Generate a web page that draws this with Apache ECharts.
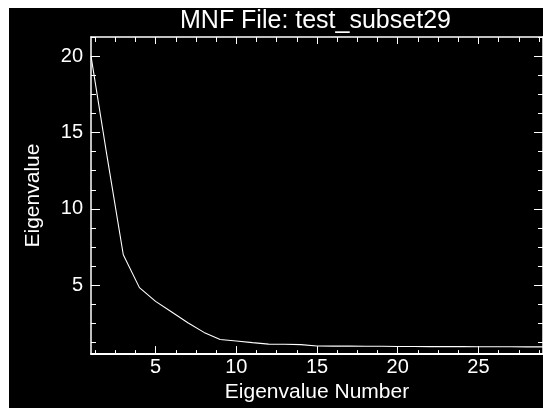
<!DOCTYPE html>
<html>
<head>
<meta charset="utf-8">
<script src="https://cdn.jsdelivr.net/npm/echarts@6/dist/echarts.min.js"></script>
<style>
  html, body { margin: 0; padding: 0; background: #ffffff; width: 543px; height: 408px; overflow: hidden; }
  #bg { position: absolute; left: 9px; top: 8px; width: 534px; height: 400px; background: #000000; }
  #chart { position: absolute; left: 0; top: 0; width: 543px; height: 408px; }
</style>
</head>
<body>
<div id="bg"></div>
<div id="chart"></div>
<script>
// Eigenvalue number (x) and eigenvalue (y)
const eigenNumbers = [1, 2, 3, 4, 5, 6, 7, 8, 9, 10, 11, 12, 13, 14, 15, 16, 17, 18, 19, 20, 21, 22, 23, 24, 25, 26, 27, 28, 29];
const eigenValues = [20.0, 13.4, 7.0, 4.85, 3.95, 3.25, 2.55, 1.92, 1.46, 1.36, 1.25, 1.15, 1.14, 1.12, 1.03, 1.02, 1.02, 1.01, 1.01, 1.0, 1.0, 0.99, 0.99, 0.99, 0.98, 0.98, 0.98, 0.97, 0.97];

// Tick labels / tick positions
const xMajorTicks = [5, 10, 15, 20, 25];
const xMinorTicks = [1.25, 2.5, 3.75, 6.25, 7.5, 8.75, 11.25, 12.5, 13.75, 16.25, 17.5, 18.75, 21.25, 22.5, 23.75, 26.25, 27.5, 28.75];
const yMajorTicks = [5, 10, 15, 20];
const yMinorTicks = [1.25, 2.5, 3.75, 6.25, 7.5, 8.75, 11.25, 12.5, 13.75, 16.25, 17.5, 18.75, 21.25];

const titleText = 'MNF File: test_subset29';
const xName = 'Eigenvalue Number';
const yName = 'Eigenvalue';

const FONT = 'Liberation Sans';
const WHITE = '#ffffff';
const X_MIN = 1, X_MAX = 29, Y_MIN = 0.5, Y_MAX = 21.25;

function xAx(opts) {
  return Object.assign({
    type: 'value', min: X_MIN, max: X_MAX, gridIndex: 0,
    splitLine: { show: false },
    axisLine: { show: false },
    axisLabel: { show: false },
    axisTick: { show: false }
  }, opts);
}
function yAx(opts) {
  return Object.assign({
    type: 'value', min: Y_MIN, max: Y_MAX, gridIndex: 0,
    splitLine: { show: false },
    axisLine: { show: false },
    axisLabel: { show: false },
    axisTick: { show: false }
  }, opts);
}

const chart = echarts.init(document.getElementById('chart'), null, { renderer: 'canvas' });
chart.setOption({
  animation: false,
  backgroundColor: 'transparent',
  title: {
    text: titleText,
    left: 180, top: 9, padding: 0,
    textStyle: { color: WHITE, fontFamily: FONT, fontSize: 25, fontWeight: 'normal' }
  },
  grid: { left: 91, top: 37, right: -4, bottom: 39.5, containLabel: false },
  xAxis: [
    xAx({
      position: 'bottom',
      axisLine: { show: true, onZero: false, lineStyle: { color: WHITE, width: 2 } },
      axisTick: { show: true, inside: true, length: 8, customValues: xMajorTicks, lineStyle: { color: WHITE, width: 1 } },
      axisLabel: { show: true, customValues: xMajorTicks, color: WHITE, fontFamily: FONT, fontSize: 20, margin: 3 },
      name: xName, nameLocation: 'middle', nameGap: 19,
      nameTextStyle: { color: WHITE, fontFamily: FONT, fontSize: 21 }
    }),
    xAx({
      position: 'bottom',
      axisTick: { show: true, inside: true, length: 4, customValues: xMinorTicks, lineStyle: { color: WHITE, width: 1 } }
    }),
    xAx({
      position: 'top',
      axisLine: { show: true, onZero: false, lineStyle: { color: WHITE, width: 1.5 } },
      axisTick: { show: true, inside: true, length: 7, customValues: xMajorTicks, lineStyle: { color: WHITE, width: 1 } }
    }),
    xAx({
      position: 'top',
      axisTick: { show: true, inside: true, length: 5, customValues: xMinorTicks, lineStyle: { color: WHITE, width: 1 } }
    })
  ],
  yAxis: [
    yAx({
      position: 'left',
      axisLine: { show: true, onZero: false, lineStyle: { color: WHITE, width: 1.5 } },
      axisTick: { show: true, inside: true, length: 9, customValues: yMajorTicks, lineStyle: { color: WHITE, width: 1 } },
      axisLabel: { show: true, customValues: yMajorTicks, color: WHITE, fontFamily: FONT, fontSize: 20, margin: 8 },
      name: yName, nameLocation: 'middle', nameGap: 47, nameRotate: 90,
      nameTextStyle: { color: WHITE, fontFamily: FONT, fontSize: 21 }
    }),
    yAx({
      position: 'left',
      axisTick: { show: true, inside: true, length: 5, customValues: yMinorTicks, lineStyle: { color: WHITE, width: 1 } }
    }),
    yAx({
      position: 'right',
      axisLine: { show: true, onZero: false, lineStyle: { color: WHITE, width: 1.5 } },
      axisTick: { show: true, inside: true, length: 9, customValues: yMajorTicks, lineStyle: { color: WHITE, width: 1 } }
    }),
    yAx({
      position: 'right',
      axisTick: { show: true, inside: true, length: 5, customValues: yMinorTicks, lineStyle: { color: WHITE, width: 1 } }
    })
  ],
  series: [{
    type: 'line',
    xAxisIndex: 0,
    yAxisIndex: 0,
    data: eigenNumbers.map((n, i) => [n, eigenValues[i]]),
    showSymbol: false,
    symbol: 'none',
    lineStyle: { color: WHITE, width: 1.1 },
    clip: true
  }]
});
</script>
</body>
</html>
